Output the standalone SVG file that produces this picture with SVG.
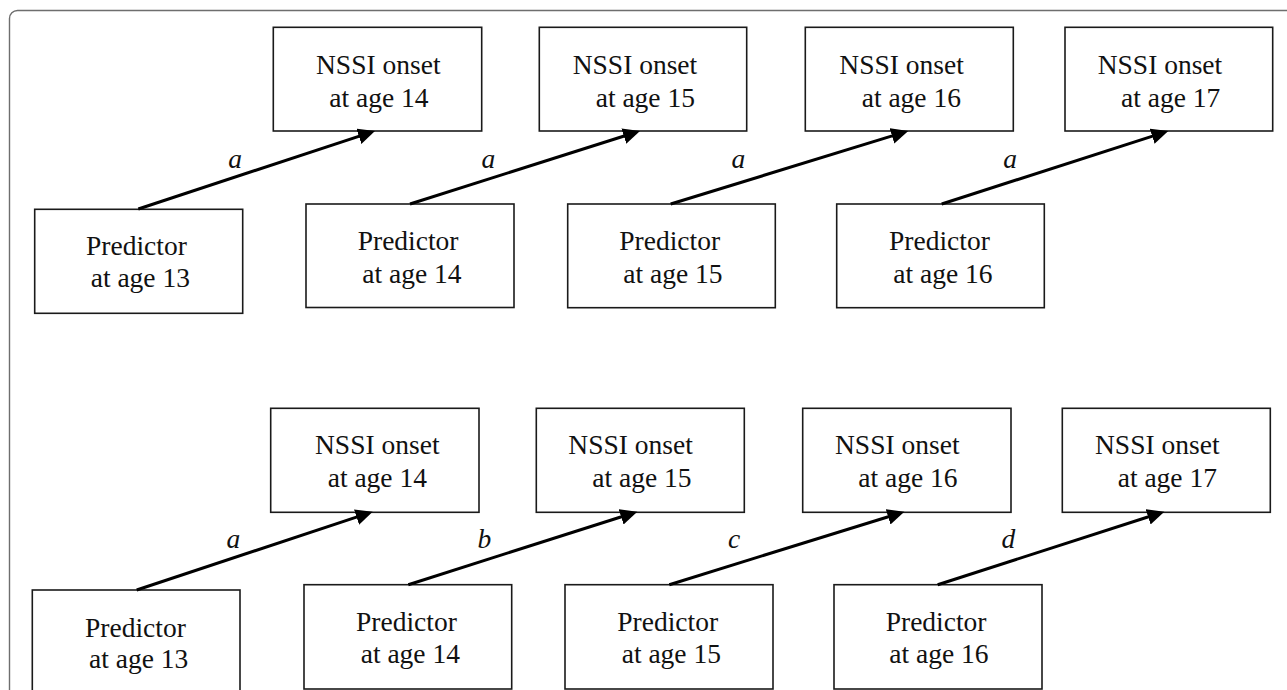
<svg xmlns="http://www.w3.org/2000/svg" width="1287" height="690" viewBox="0 0 1287 690">
<defs>
<style>
.frame{fill:none;stroke:#6e6e6e;stroke-width:1.4}
.box{fill:#fff;stroke:#1a1a1a;stroke-width:1.6}
.t{font-family:"Liberation Serif","Times New Roman",serif;font-size:27.5px;fill:#111}
.lbl{font-family:"Liberation Serif","Times New Roman",serif;font-size:27.5px;font-style:italic;fill:#111;text-anchor:middle}
.edge{stroke:#000;stroke-width:3;fill:none;marker-end:url(#ah)}
</style>
<marker id="ah" markerUnits="userSpaceOnUse" markerWidth="18" markerHeight="17" refX="7" refY="8" orient="auto">
<path d="M0,0 L17,8 L0,16 z" fill="#000"/>
</marker>
</defs>
<rect width="1287" height="690" fill="#fff"/>
<rect class="frame" x="9.5" y="10.5" width="1300" height="700" rx="8"/>

<!-- Top panel -->
<g id="top-nssi14"><rect class="box" x="273.3" y="27.3" width="208.4" height="103.7"/><text class="t" x="316" y="74">NSSI onset</text><text class="t" x="329.3" y="106.7">at age 14</text></g>
<g id="top-nssi15"><rect class="box" x="539.3" y="27.3" width="207.4" height="103.7"/><text class="t" x="572.7" y="74">NSSI onset</text><text class="t" x="595.7" y="106.7">at age 15</text></g>
<g id="top-nssi16"><rect class="box" x="805.3" y="27.3" width="208" height="103.7"/><text class="t" x="839.3" y="74">NSSI onset</text><text class="t" x="861.7" y="106.7">at age 16</text></g>
<g id="top-nssi17"><rect class="box" x="1065" y="27.3" width="207.7" height="103.7"/><text class="t" x="1097.7" y="74">NSSI onset</text><text class="t" x="1121" y="106.7">at age 17</text></g>
<g id="top-pred13"><rect class="box" x="34.7" y="209.3" width="208" height="104"/><text class="t" x="86" y="255">Predictor</text><text class="t" x="90.7" y="287.3">at age 13</text></g>
<g id="top-pred14"><rect class="box" x="306" y="204" width="208" height="103.5"/><text class="t" x="357.7" y="250">Predictor</text><text class="t" x="362.3" y="282.7">at age 14</text></g>
<g id="top-pred15"><rect class="box" x="567.7" y="204" width="207.6" height="103.7"/><text class="t" x="619.3" y="250">Predictor</text><text class="t" x="623.3" y="282.7">at age 15</text></g>
<g id="top-pred16"><rect class="box" x="836.7" y="204" width="207.6" height="103.7"/><text class="t" x="889" y="250">Predictor</text><text class="t" x="893.3" y="282.7">at age 16</text></g>

<!-- Bottom panel -->
<g id="bot-nssi14"><rect class="box" x="270.7" y="408.3" width="208.3" height="104"/><text class="t" x="315" y="454">NSSI onset</text><text class="t" x="327.7" y="486.7">at age 14</text></g>
<g id="bot-nssi15"><rect class="box" x="536.3" y="408.3" width="208" height="104"/><text class="t" x="568.3" y="454">NSSI onset</text><text class="t" x="592.3" y="486.7">at age 15</text></g>
<g id="bot-nssi16"><rect class="box" x="802.7" y="408.3" width="208.3" height="104"/><text class="t" x="835" y="454">NSSI onset</text><text class="t" x="858.3" y="486.7">at age 16</text></g>
<g id="bot-nssi17"><rect class="box" x="1062.3" y="408.3" width="208" height="104"/><text class="t" x="1095" y="454">NSSI onset</text><text class="t" x="1117.7" y="486.7">at age 17</text></g>
<g id="bot-pred13"><rect class="box" x="32.3" y="590" width="207.7" height="104"/><text class="t" x="85" y="636.7">Predictor</text><text class="t" x="89" y="668.3">at age 13</text></g>
<g id="bot-pred14"><rect class="box" x="304" y="584.7" width="207.7" height="104.3"/><text class="t" x="356" y="630.7">Predictor</text><text class="t" x="360.7" y="663.3">at age 14</text></g>
<g id="bot-pred15"><rect class="box" x="565" y="584.7" width="208" height="104.3"/><text class="t" x="617.3" y="630.7">Predictor</text><text class="t" x="621.7" y="663.3">at age 15</text></g>
<g id="bot-pred16"><rect class="box" x="834" y="584.7" width="208" height="104.3"/><text class="t" x="885.7" y="630.7">Predictor</text><text class="t" x="889.3" y="663.3">at age 16</text></g>

<g id="connectors">
<line class="edge" x1="138.3" y1="209" x2="365.5" y2="134.1"/>
<line class="edge" x1="410" y1="204" x2="630.5" y2="134"/>
<line class="edge" x1="670.7" y1="204" x2="898.7" y2="133.9"/>
<line class="edge" x1="941.7" y1="204" x2="1158.8" y2="134.1"/>
<line class="edge" x1="136.7" y1="590" x2="363.2" y2="514.9"/>
<line class="edge" x1="408.3" y1="584.7" x2="627.8" y2="514.7"/>
<line class="edge" x1="669.3" y1="584.7" x2="894.8" y2="514.7"/>
<line class="edge" x1="937.7" y1="584.7" x2="1154.8" y2="514.8"/>
<text class="lbl" x="235" y="168">a</text>
<text class="lbl" x="488.3" y="168">a</text>
<text class="lbl" x="738.3" y="168">a</text>
<text class="lbl" x="1010" y="168">a</text>
<text class="lbl" x="233.3" y="548.3">a</text>
<text class="lbl" x="484.3" y="548.3">b</text>
<text class="lbl" x="734" y="548.3">c</text>
<text class="lbl" x="1008.3" y="548.3">d</text>
</g>
</svg>
